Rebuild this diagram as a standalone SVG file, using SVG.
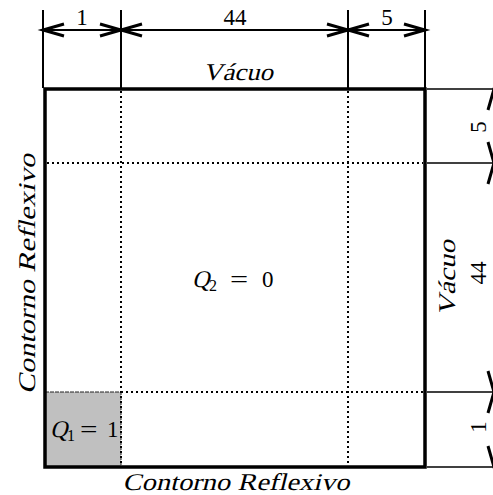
<svg xmlns="http://www.w3.org/2000/svg" width="493" height="495" viewBox="0 0 493 495">
<style>
.it{font-family:"Liberation Serif","DejaVu Serif",serif;font-style:normal;font-size:24px;fill:#000}
.num{font-family:"Liberation Serif","DejaVu Serif",serif;font-size:23px;fill:#000}
.sub{font-family:"Liberation Serif","DejaVu Serif",serif;font-size:16px;fill:#000}
.ext{stroke:#000;stroke-width:2;fill:none}
.ext2{stroke:#000;stroke-width:1.5;fill:none}
.dim{stroke:#000;stroke-width:2;fill:none;marker-start:url(#arr);marker-end:url(#arr)}
.dot{stroke:#000;stroke-width:2;stroke-dasharray:2 3;fill:none}
</style>
<defs>
<marker id="arr" markerUnits="userSpaceOnUse" markerWidth="30" markerHeight="20" viewBox="-25 -10 30 20" refX="0" refY="0" orient="auto-start-reverse" overflow="visible">
<path d="M-21,-6 L0,0 L-21,6" fill="none" stroke="#000" stroke-width="3" stroke-linejoin="miter"/>
</marker>
</defs>
<rect width="493" height="495" fill="#fff"/>

<g id="q1-region">
<rect x="45" y="392" width="76" height="75" fill="#c0c0c0" stroke="#222" stroke-width="1" stroke-dasharray="4 1"/>
<text class="it" transform="translate(50,437) skewX(-14)">Q</text>
<text class="sub" x="67" y="441">1</text>
<text class="num" transform="translate(80,437) scale(1.35,1)">=</text>
<text class="num" x="107" y="437">1</text>
</g>

<g id="grid">
<line class="dot" x1="121" y1="91" x2="121" y2="466"/>
<line class="dot" x1="348" y1="91" x2="348" y2="466"/>
<line class="dot" x1="47" y1="163" x2="423" y2="163"/>
<line class="dot" x1="121" y1="392" x2="423" y2="392"/>
</g>

<g id="q2-region">
<text class="it" transform="translate(192,287) skewX(-14)">Q</text>
<text class="sub" x="209" y="291">2</text>
<text class="num" transform="translate(230,287) scale(1.4,1)">=</text>
<text class="num" x="262" y="287">0</text>
</g>

<g id="domain">
<rect x="45" y="89" width="380" height="378" fill="none" stroke="#000" stroke-width="3.5"/>
</g>

<g id="labels">
<text class="it" transform="translate(238,80) skewX(-14)" text-anchor="middle" textLength="70" lengthAdjust="spacingAndGlyphs">Vácuo</text>
<text class="it" transform="translate(236,490) skewX(-14)" text-anchor="middle" textLength="227" lengthAdjust="spacingAndGlyphs">Contorno Reflexivo</text>
<text class="it" transform="translate(35,274) rotate(-90) skewX(-14)" text-anchor="middle" textLength="240" lengthAdjust="spacingAndGlyphs">Contorno Reflexivo</text>
<text class="it" transform="translate(455,278) rotate(-90) skewX(-14)" text-anchor="middle" textLength="76" lengthAdjust="spacingAndGlyphs">Vácuo</text>
<text class="num" x="82" y="25" text-anchor="middle">1</text>
<text class="num" x="235" y="25" text-anchor="middle">44</text>
<text class="num" x="387" y="25" text-anchor="middle">5</text>
<text class="num" transform="translate(486,273) rotate(-90)" text-anchor="middle">44</text>
<text class="num" transform="translate(486,127) rotate(-90)" text-anchor="middle">5</text>
<text class="num" transform="translate(486,427) rotate(-90)" text-anchor="middle">1</text>
</g>

<g id="connectors">
<line class="ext" x1="43" y1="10" x2="43" y2="88"/>
<line class="ext" x1="121" y1="10" x2="121" y2="88"/>
<line class="ext" x1="348" y1="10" x2="348" y2="88"/>
<line class="ext" x1="425" y1="10" x2="425" y2="88"/>
<line class="ext2" x1="427" y1="89" x2="493" y2="89"/>
<line class="ext2" x1="427" y1="163" x2="493" y2="163"/>
<line class="ext2" x1="427" y1="392" x2="493" y2="392"/>
<line class="ext2" x1="427" y1="467" x2="493" y2="467"/>
<line class="dim" x1="43" y1="30" x2="121" y2="30"/>
<line class="dim" x1="121" y1="30" x2="348" y2="30"/>
<line class="dim" x1="348" y1="30" x2="425" y2="30"/>
<line class="dim" x1="494" y1="89" x2="494" y2="163"/>
<line class="dim" x1="494" y1="163" x2="494" y2="392"/>
<line class="dim" x1="494" y1="392" x2="494" y2="467"/>
</g>
</svg>
